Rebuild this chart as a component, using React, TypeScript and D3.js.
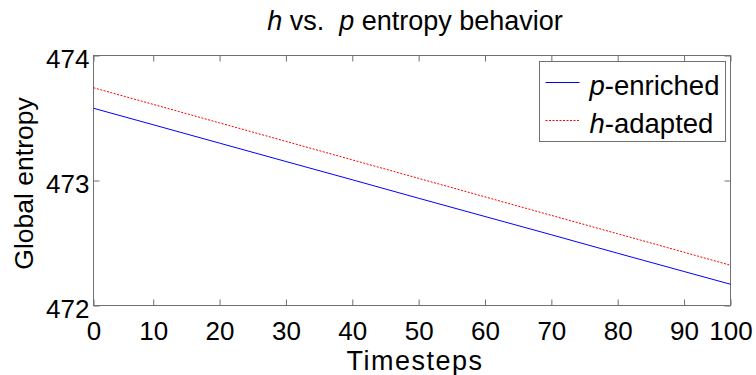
import * as d3 from "d3";
import React, { useRef, useEffect } from "react";

const timesteps = [1, 10, 20, 30, 40, 50, 60, 70, 80, 90, 97];
const pEnriched = [473.578, 473.446, 473.299, 473.152, 473.006, 472.858, 472.712, 472.566, 472.418, 472.272, 472.17];
const hAdapted = [473.742, 473.609, 473.461, 473.313, 473.165, 473.017, 472.869, 472.721, 472.574, 472.426, 472.322];

const xTickValues = [1, 10, 20, 30, 40, 50, 60, 70, 80, 90, 97];
const xTickLabels = ["0", "10", "20", "30", "40", "50", "60", "70", "80", "90", "100"];
const yTickValues = [472, 473, 474];

const mainWidth = 756;
const mainHeight = 375;
const margin = { top: 55.5, right: 25.5, bottom: 69.5, left: 93.5 };
const width = mainWidth - margin.left - margin.right;
const height = mainHeight - margin.top - margin.bottom;

const font = "'Liberation Sans', Arial, Helvetica, sans-serif";
const axisColor = "#707070";

function EntropyChart() {
  const ref = useRef<SVGSVGElement>(null);

  useEffect(() => {
    const svg = d3.select(ref.current);
    svg.selectAll("*").remove();

    const xScale = d3.scaleLinear().domain([1, 97]).range([0, width]);
    const yScale = d3.scaleLinear().domain([472, 474]).range([height, 0]);

    const g = svg
      .append("g")
      .attr("transform", `translate(${margin.left},${margin.top})`);

    // box
    g.append("rect")
      .attr("width", width)
      .attr("height", height)
      .attr("fill", "none")
      .attr("stroke", axisColor)
      .attr("stroke-width", 1);

    const styleAxis = (sel) => {
      sel.select(".domain").remove();
      sel.selectAll("line").attr("stroke", axisColor);
      sel
        .selectAll("text")
        .attr("fill", "#000")
        .attr("font-family", font)
        .attr("font-size", 26);
    };

    // x axes
    g.append("g")
      .attr("transform", `translate(0,${height})`)
      .call(
        d3
          .axisBottom(xScale)
          .tickValues(xTickValues)
          .tickFormat((_, i) => xTickLabels[i])
          .tickSizeInner(-6)
          .tickSizeOuter(0)
          .tickPadding(16)
      )
      .call(styleAxis);

    g.append("g")
      .call(
        d3
          .axisTop(xScale)
          .tickValues(xTickValues)
          .tickFormat(() => "")
          .tickSizeInner(-6)
          .tickSizeOuter(0)
      )
      .call(styleAxis);

    // y axes
    g.append("g")
      .call(
        d3
          .axisLeft(yScale)
          .tickValues(yTickValues)
          .tickFormat(d3.format("d"))
          .tickSizeInner(-6)
          .tickSizeOuter(0)
          .tickPadding(4)
      )
      .call(styleAxis)
      .selectAll("text")
      .attr("dy", "0.45em");

    g.append("g")
      .attr("transform", `translate(${width},0)`)
      .call(
        d3
          .axisRight(yScale)
          .tickValues(yTickValues)
          .tickFormat(() => "")
          .tickSizeInner(-6)
          .tickSizeOuter(0)
      )
      .call(styleAxis);

    // lines
    const line = d3
      .line<number>()
      .x((_, i) => xScale(timesteps[i]))
      .y((d) => yScale(d));

    g.append("path")
      .datum(pEnriched)
      .attr("d", line)
      .attr("fill", "none")
      .attr("stroke", "#0000ff")
      .attr("stroke-width", 1);

    g.append("path")
      .datum(hAdapted)
      .attr("d", line)
      .attr("fill", "none")
      .attr("stroke", "#ff0000")
      .attr("stroke-width", 1)
      .attr("stroke-dasharray", "2,1.5");

    // legend
    const legend = svg.append("g").attr("transform", "translate(539.5,61.5)");
    legend
      .append("rect")
      .attr("width", 186)
      .attr("height", 80)
      .attr("fill", "#fff")
      .attr("stroke", axisColor);

    const items = [
      { key: "p", rest: "-enriched", color: "#0000ff", dash: null, y: 21 },
      { key: "h", rest: "-adapted", color: "#ff0000", dash: "2,1.5", y: 59 },
    ];
    items.forEach((it) => {
      legend
        .append("line")
        .attr("x1", 6)
        .attr("x2", 40)
        .attr("y1", it.y)
        .attr("y2", it.y)
        .attr("stroke", it.color)
        .attr("stroke-dasharray", it.dash);
      const t = legend
        .append("text")
        .attr("x", 50)
        .attr("y", it.y + 12)
        .attr("font-family", font)
        .attr("font-size", 27.5);
      t.append("tspan").attr("font-style", "italic").text(it.key);
      t.append("tspan").text(it.rest);
    });

    // title
    const title = svg
      .append("text")
      .attr("x", margin.left + width / 2 + 3)
      .attr("y", 30)
      .attr("text-anchor", "middle")
      .attr("font-family", font)
      .attr("font-size", 27)
      .style("white-space", "pre");
    title.append("tspan").attr("font-style", "italic").text("h");
    title.append("tspan").text(" vs.  ");
    title.append("tspan").attr("font-style", "italic").text("p");
    title.append("tspan").text(" entropy behavior");

    // axis labels
    svg
      .append("text")
      .attr("x", margin.left + width / 2 + 3)
      .attr("y", 369.5)
      .attr("text-anchor", "middle")
      .attr("font-family", font)
      .attr("font-size", 27)
      .attr("letter-spacing", 1.5)
      .text("Timesteps");

    svg
      .append("text")
      .attr("transform", `translate(33,${margin.top + height / 2 + 3}) rotate(-90)`)
      .attr("text-anchor", "middle")
      .attr("font-family", font)
      .attr("font-size", 26.5)
      .text("Global entropy");
  }, []);

  return (
    <svg
      ref={ref}
      width={mainWidth}
      height={mainHeight}
      style={{ position: "absolute", left: 0, top: 0, background: "#fff" }}
    ></svg>
  );
}

export default function App() {
  return <EntropyChart />;
}
